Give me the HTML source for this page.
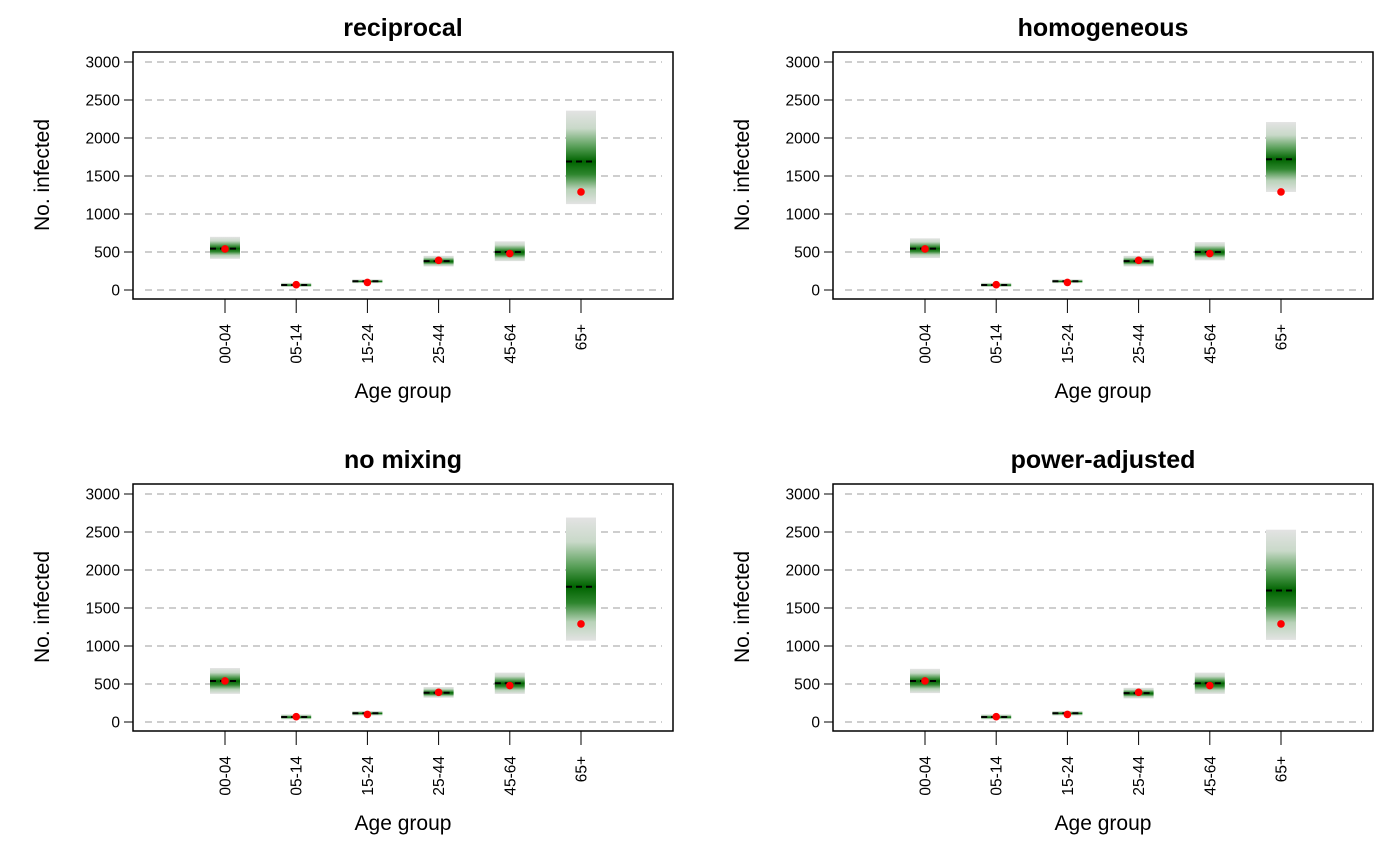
<!DOCTYPE html>
<html><head><meta charset="utf-8"><style>
body{margin:0;background:#fff;}
svg{display:block;font-family:"Liberation Sans",Arial,sans-serif;}
</style></head><body>
<svg id="c" width="1400" height="865" viewBox="0 0 1400 865"></svg>
<script>
const categories=["00-04","05-14","15-24","25-44","45-64","65+"];
const panelTitles=["reciprocal","homogeneous","no mixing","power-adjusted"];
const observed=[540,70,100,390,480,1290];
const medReciprocal=[545,65,115,380,500,1690];
const lowReciprocal=[410,40,90,310,380,1130];
const highReciprocal=[700,95,140,450,640,2360];
const medHomogeneous=[545,65,115,380,500,1720];
const lowHomogeneous=[420,40,90,310,390,1290];
const highHomogeneous=[680,95,140,450,630,2210];
const medNoMixing=[540,65,115,385,510,1780];
const lowNoMixing=[370,35,85,320,370,1070];
const highNoMixing=[710,100,145,460,650,2690];
const medPower=[540,65,115,380,510,1730];
const lowPower=[380,35,85,310,370,1080];
const highPower=[700,100,145,450,650,2530];
const yTicks=[0,500,1000,1500,2000,2500,3000];
const meds=[medReciprocal,medHomogeneous,medNoMixing,medPower];
const lows=[lowReciprocal,lowHomogeneous,lowNoMixing,lowPower];
const highs=[highReciprocal,highHomogeneous,highNoMixing,highPower];

const NS="http://www.w3.org/2000/svg";
const svg=document.getElementById('c');
const defs=document.createElementNS(NS,'defs');svg.appendChild(defs);
function el(tag,attrs,parent){const e=document.createElementNS(NS,tag);for(const k in attrs)e.setAttribute(k,attrs[k]);(parent||svg).appendChild(e);return e;}
let gid=0;
panelTitles.forEach((title,p)=>{
  const ox=(p%2)*700, oy=Math.floor(p/2)*432;
  const g=el('g',{});
  
  
  const y=v=>oy+290-v*228/3000;
  const x=i=>ox+225+i*71.2;
  yTicks.forEach(t=>{
    const gl=el('line',{x1:ox+145,x2:ox+662,y1:y(t),y2:y(t),stroke:'#bebebe','stroke-width':1.5,'stroke-dasharray':'7,5'},g);
    
    
    el('line',{x1:ox+124,x2:ox+133,y1:y(t),y2:y(t),stroke:'#000','stroke-width':1},g);
    const tl=el('text',{x:ox+120,y:y(t)+5.5,'text-anchor':'end','font-size':15.5},g);tl.textContent=t;
    
    
  });
  categories.forEach((c,i)=>{
    const lo=lows[p][i],hi=highs[p][i],md=meds[p][i];
    const id='gr'+(gid++);
    const f=(hi-md)/(hi-lo);
    const lg=el('linearGradient',{id:id,x1:0,y1:0,x2:0,y2:1},defs);
    [[0,'#e3e3e3'],[f*0.35,'#c9d9c9'],[f*0.7,'#5aa05a'],[f,'#006400'],[f+(1-f)*0.3,'#2e862e'],[f+(1-f)*0.65,'#b8d2b8'],[1,'#e3e3e3']].forEach(s=>el('stop',{offset:s[0],'stop-color':s[1]},lg));
    const r=el('rect',{x:x(i)-15,y:y(hi),width:30,height:y(lo)-y(hi),fill:'url(#'+id+')'},g);
    
    
    const m=el('line',{x1:x(i)-15,x2:x(i)+15,y1:y(md),y2:y(md),stroke:'#000','stroke-width':2,'stroke-dasharray':'6,4'},g);
    
    
    const d=el('circle',{cx:x(i),cy:y(observed[i]),r:3.8,fill:'#ff0000'},g);
    
    
    el('line',{x1:x(i),x2:x(i),y1:oy+299,y2:oy+313,stroke:'#000','stroke-width':1},g);
    const xl=el('text',{x:0,y:0,'text-anchor':'end','font-size':15.5,transform:`translate(${x(i)+5.5},${oy+324}) rotate(-90)`},g);xl.textContent=c;
    
    
  });
  const fr=el('rect',{x:ox+133,y:oy+52,width:540,height:247,fill:'none',stroke:'#000','stroke-width':1.5},g);
  
  
  const tt=el('text',{x:ox+403,y:oy+36,'text-anchor':'middle','font-size':25,'font-weight':'bold'},g);tt.textContent=title;
  
  
  const xa=el('text',{x:ox+403,y:oy+398,'text-anchor':'middle','font-size':21},g);xa.textContent='Age group';
  
  
  const ya=el('text',{x:0,y:0,'text-anchor':'middle','font-size':21,transform:`translate(${ox+49},${oy+175}) rotate(-90)`},g);ya.textContent='No. infected';
  
  
});
</script>
</body></html>
